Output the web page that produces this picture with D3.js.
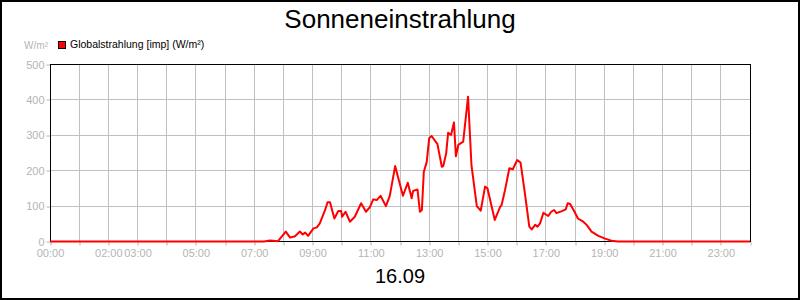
<!DOCTYPE html>
<html>
<head>
<meta charset="utf-8">
<script src="https://cdn.jsdelivr.net/npm/d3@7"></script>
<style>
  body { margin: 0; background: #fff; }
  svg { display: block; font-family: "Liberation Sans", Arial, sans-serif; }
</style>
</head>
<body>
<div id="chart"></div>
<script>
var lineColor = '#ff0000'
var gridColor = '#c0c0c0'
var labelColor = '#b4b4b4'

var title = 'Sonneneinstrahlung'
var dateLabel = '16.09'
var seriesName = 'Globalstrahlung [imp] (W/m²)'
var unitLabel = 'W/m²'

// measurement times and values (W/m²)
var times = ['00:00', '07:20', '07:33', '07:49', '08:05', '08:14', '08:24', '08:34', '08:40', '08:45',
  '08:51', '09:02', '09:09', '09:15', '09:26', '09:31', '09:36', '09:45', '09:53', '09:59',
  '10:01', '10:08', '10:17', '10:27', '10:40', '10:50', '10:58', '11:05', '11:12', '11:20',
  '11:31', '11:39', '11:50', '12:06', '12:16', '12:24', '12:27', '12:36', '12:41', '12:45',
  '12:49', '12:55', '13:00', '13:05', '13:17', '13:26', '13:29', '13:35', '13:39', '13:45',
  '13:51', '13:55', '14:00', '14:10', '14:20', '14:27', '14:38', '14:46', '14:55', '15:00',
  '15:15', '15:26', '15:29', '15:36', '15:45', '15:52', '16:01', '16:08', '16:17', '16:26',
  '16:31', '16:38', '16:43', '16:48', '16:55', '17:05', '17:11', '17:17', '17:22', '17:33',
  '17:41', '17:45', '17:50', '17:59', '18:06', '18:17', '18:24', '18:34', '18:48', '19:02',
  '19:15', '19:28', '24:00']
var values = [0, 0, 3, 1, 28, 11, 15, 28, 20, 25,
  16, 37, 40, 51, 89, 111, 111, 65, 86, 86,
  70, 84, 56, 70, 108, 84, 97, 119, 117, 129,
  100, 129, 213, 129, 166, 122, 143, 147, 84, 89,
  197, 225, 292, 298, 275, 211, 213, 249, 307, 301,
  336, 241, 273, 282, 409, 216, 100, 87, 155, 150,
  61, 98, 103, 145, 207, 204, 230, 223, 135, 42,
  34, 47, 42, 51, 81, 72, 84, 89, 80, 86,
  91, 108, 106, 84, 65, 56, 47, 28, 16, 8,
  2, 0, 0]

var yTicks = [0, 100, 200, 300, 400, 500]
var xTickHours = d3.range(0, 25)
var xLabelHours = [0, 2, 3, 5, 7, 9, 11, 13, 15, 17, 19, 21, 23]

var chartWidth = 800
var chartHeight = 300
var margin = { left: 50, right: 50, top: 64.5, bottom: 58.5 }

function toMinutes(t) {
  var p = t.split(':')
  return +p[0] * 60 + +p[1]
}
function pad(h) { return (h < 10 ? '0' : '') + h + ':00' }

var data = times.map(function(t, i) {
  return { m: toMinutes(t), v: values[i] }
})

var svg = d3.select('#chart')
  .append('svg')
  .attr('width', chartWidth)
  .attr('height', chartHeight)

var x = d3.scaleLinear()
  .domain([0, 1440])
  .range([margin.left, chartWidth - margin.right])

var y = d3.scaleLinear()
  .domain([0, 500])
  .range([chartHeight - margin.bottom, margin.top])

function crisp(v) { return Math.round(v - 0.5) + 0.5 }

// outer border
svg.append('rect')
  .attr('x', 1).attr('y', 1)
  .attr('width', chartWidth - 2).attr('height', chartHeight - 2)
  .attr('fill', 'none').attr('stroke', '#000').attr('stroke-width', 2)

// grid
svg.append('g').selectAll('line')
  .data(xTickHours.slice(1, -1))
  .enter().append('line')
  .attr('x1', function(h) { return crisp(x(h * 60)) })
  .attr('x2', function(h) { return crisp(x(h * 60)) })
  .attr('y1', y(500)).attr('y2', y(0))
  .attr('stroke', gridColor)

svg.append('g').selectAll('line')
  .data(yTicks.slice(1, -1))
  .enter().append('line')
  .attr('x1', x(0)).attr('x2', x(1440))
  .attr('y1', function(d) { return crisp(y(d)) })
  .attr('y2', function(d) { return crisp(y(d)) })
  .attr('stroke', gridColor)

// y axis ticks + labels
var yAxis = d3.axisLeft(y).tickValues(yTicks).tickSize(4).tickPadding(2)
var gy = svg.append('g').attr('transform', 'translate(' + crisp(x(0)) + ',0)').call(yAxis)
gy.select('.domain').remove()
gy.selectAll('line').attr('stroke', labelColor)
  .attr('transform', function(d) { return 'translate(0,' + (crisp(y(d)) - y(d)) + ')' })
gy.selectAll('text').attr('fill', labelColor).style('font-size', '11px')
  .style('font-family', '"Liberation Sans", Arial, sans-serif')

// x axis ticks + labels
var xAxis = d3.axisBottom(x)
  .tickValues(xTickHours.map(function(h) { return h * 60 }))
  .tickSize(4).tickPadding(4)
  .tickFormat(function(m) {
    var h = m / 60
    return xLabelHours.indexOf(h) >= 0 ? pad(h) : ''
  })
var gx = svg.append('g').attr('transform', 'translate(0,' + crisp(y(0)) + ')').call(xAxis)
gx.select('.domain').remove()
gx.selectAll('line').attr('stroke', labelColor)
  .attr('transform', function(m) { return 'translate(' + (crisp(x(m)) - x(m)) + ',0)' })
gx.selectAll('text').attr('fill', labelColor).style('font-size', '11px')
  .style('font-family', '"Liberation Sans", Arial, sans-serif')

// plot frame
svg.append('rect')
  .attr('x', crisp(x(0))).attr('y', crisp(y(500)))
  .attr('width', Math.round(x(1440) - x(0))).attr('height', Math.round(y(0) - y(500)))
  .attr('fill', 'none').attr('stroke', '#000')

// series line
var line = d3.line()
  .x(function(d) { return x(d.m) })
  .y(function(d) { return y(d.v) })

svg.append('path')
  .datum(data)
  .attr('d', line)
  .attr('fill', 'none')
  .attr('stroke', lineColor)
  .attr('stroke-width', 2)
  .attr('stroke-linejoin', 'round')

// texts
svg.append('text')
  .attr('x', chartWidth / 2).attr('y', 28)
  .attr('text-anchor', 'middle')
  .style('font-size', '26px')
  .text(title)

svg.append('text')
  .attr('x', chartWidth / 2).attr('y', 283)
  .attr('text-anchor', 'middle')
  .style('font-size', '20px')
  .text(dateLabel)

svg.append('text')
  .attr('x', 48).attr('y', 49)
  .attr('text-anchor', 'end')
  .attr('fill', labelColor)
  .style('font-size', '10px')
  .text(unitLabel)

svg.append('rect')
  .attr('x', 58.5).attr('y', 41.5)
  .attr('width', 7).attr('height', 7)
  .attr('fill', lineColor).attr('stroke', '#000')

svg.append('text')
  .attr('x', 70).attr('y', 48)
  .style('font-size', '10.5px')
  .text(seriesName)
</script>
</body>
</html>
